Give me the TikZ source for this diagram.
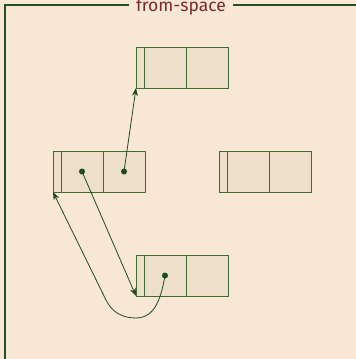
\documentclass[tikz,border=0pt]{standalone}
\usepackage{fontspec}
\usepackage{tikz}
\usetikzlibrary{arrows.meta,positioning}
\newfontfamily\titlefont{Fira Sans}
\definecolor{bgBeige}{HTML}{F8E7D2}
\definecolor{cellFill}{HTML}{EDDFC8}
\definecolor{cellLine}{HTML}{3F6A35}
\definecolor{ptrGreen}{HTML}{1E4A1E}
\definecolor{titleRed}{HTML}{7B2A2A}

\begin{document}
\begin{tikzpicture}[
  x=1pt, y=-1pt, node distance=0pt,
  tag/.style={draw=cellLine, fill=cellFill, line width=1pt, inner sep=0pt, outer sep=0pt, minimum width=8pt, minimum height=41pt},
  cell/.style={draw=cellLine, fill=cellFill, line width=1pt, inner sep=0pt, outer sep=0pt, minimum width=42pt, minimum height=41pt},
  ptr/.style={ptrGreen, line width=0.8pt, -{Stealth[length=8pt,width=6pt]}},
  dot/.style={circle, fill=ptrGreen, inner sep=0pt, minimum size=6pt}]
\useasboundingbox[fill=bgBeige] (0,0) rectangle (356,359);
% frame
\draw[ptrGreen!80!cellLine, line width=1.2pt] (5,359) -- (5,5) -- (356,5);
\node[fill=bgBeige, text=titleRed, anchor=base, inner xsep=7pt, font=\titlefont\fontsize{17.5}{20}\selectfont] (title) at (181,11) {from-space};
% records
\node[tag, anchor=north west] (t0) at (136,47) {};
\node[cell, right=of t0] (t1) {};
\node[cell, right=of t1] (t2) {};
\node[tag, anchor=north west] (a0) at (53,151) {};
\node[cell, right=of a0] (a1) {};
\node[cell, right=of a1] (a2) {};
\node[tag, anchor=north west] (c0) at (219,151) {};
\node[cell, right=of c0] (c1) {};
\node[cell, right=of c1] (c2) {};
\node[tag, anchor=north west] (b0) at (136,255) {};
\node[cell, right=of b0] (b1) {};
\node[cell, right=of b1] (b2) {};
% pointers
\node[dot] (pa1) at (a1.center) {};
\node[dot] (pa2) at (a2.center) {};
\node[dot] (pb1) at (b1.center) {};
\coordinate (loop) at (136,318);
\coordinate (bend) at (106,300);
\draw[ptr] (pa2.center) -- (t0.south west);
\draw[ptr] (pa1.center) -- (b0.south west);
\draw[ptr] (pb1.center) to[out=-100, in=0] (loop) to[out=180, in=-64] (bend) -- (a0.south west);
\end{tikzpicture}
\end{document}
